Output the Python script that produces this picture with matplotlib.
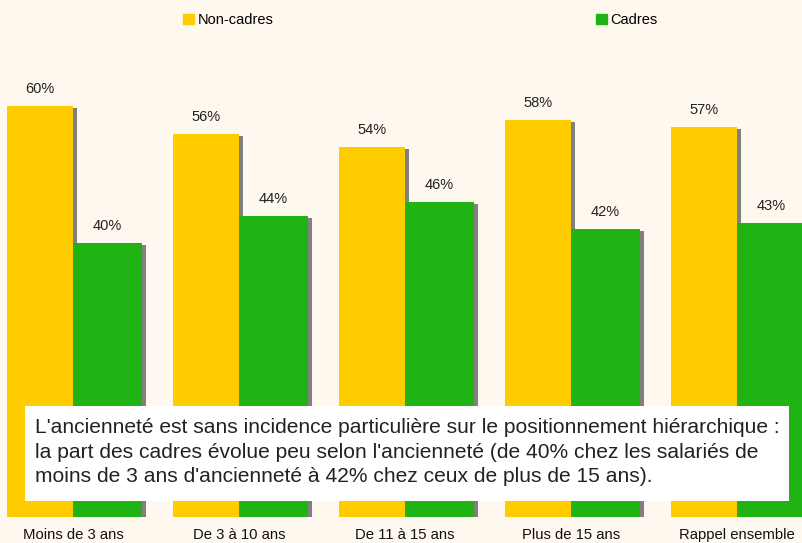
import numpy as np
import matplotlib.pyplot as plt
from matplotlib.patches import Patch, Rectangle

plt.rcParams['font.family'] = ['Liberation Sans', 'DejaVu Sans']

categories = ['Moins de 3 ans', 'De 3 à 10 ans', 'De 11 à 15 ans', 'Plus de 15 ans', 'Rappel ensemble']
non_cadres = [60, 56, 54, 58, 57]
cadres = [40, 44, 46, 42, 43]
series_names = ['Non-cadres', 'Cadres']
note = ("L'ancienneté est sans incidence particulière sur le positionnement hiérarchique :\n"
        "la part des cadres évolue peu selon l'ancienneté (de 40% chez les salariés de\n"
        "moins de 3 ans d'ancienneté à 42% chez ceux de plus de 15 ans).")

bg = '#fff8ee'
yellow = '#ffcc00'
green = '#1fb414'
shadow = '#808080'

W, H = 803, 543
fig = plt.figure(figsize=(W / 100, H / 100), dpi=100, facecolor=bg)
ax = fig.add_axes([0, 26 / H, 1, 1 - 26 / H])
ax.set_facecolor(bg)

x = np.arange(len(categories))
w_nc = 0.40
w_c = 0.415
dx = 4 / 166        # shadow offset, about 4 px
dy = 2 / 6.85       # about 2 px

# shadows first, then the bars on top
ax.bar(x + dx, np.array(non_cadres) - dy, -w_nc, align='edge', color=shadow, zorder=1)
ax.bar(x, non_cadres, -w_nc, align='edge', color=yellow, zorder=2)
ax.bar(x + dx, np.array(cadres) - dy, w_c, align='edge', color=shadow, zorder=3)
ax.bar(x, cadres, w_c, align='edge', color=green, zorder=4)

for i in range(len(categories)):
    ax.text(x[i] - w_nc / 2, non_cadres[i] + 1.9, '%d%%' % non_cadres[i],
            ha='center', va='baseline', fontsize=10.5, color='#222222')
    ax.text(x[i] + w_c / 2, cadres[i] + 1.9, '%d%%' % cadres[i],
            ha='center', va='baseline', fontsize=10.5, color='#222222')

ax.set_xlim(-0.44, 4.398)
ax.set_ylim(0, 75.5)
ax.set_xticks(x)
ax.set_xticklabels(categories, fontsize=10.7, color='#111111')
ax.tick_params(axis='x', length=0, pad=8)
ax.set_yticks([])
for s in ax.spines.values():
    s.set_visible(False)

# legend, two separate entries as in the original
leg_kw = dict(loc='center left', bbox_transform=fig.transFigure, frameon=False,
              fontsize=10.5, handlelength=0.75, handleheight=0.7,
              handletextpad=0.25, borderpad=0, borderaxespad=0)
leg1 = ax.legend([Patch(color=yellow)], [series_names[0]],
                 bbox_to_anchor=(183 / W, 1 - 20 / H), **leg_kw)
ax.add_artist(leg1)
ax.legend([Patch(color=green)], [series_names[1]],
          bbox_to_anchor=(596 / W, 1 - 20 / H), **leg_kw)

# comment box
fig.patches.append(Rectangle((25 / W, 1 - 501 / H), (789 - 25) / W, (501 - 406) / H,
                             transform=fig.transFigure, facecolor='white',
                             edgecolor='none', zorder=5))
fig.text(35 / W, 1 - 452 / H, note, ha='left', va='center', fontsize=15.1,
         color='#222222', linespacing=1.36, zorder=6)

fig.savefig('out.png', dpi=100, facecolor=bg)
